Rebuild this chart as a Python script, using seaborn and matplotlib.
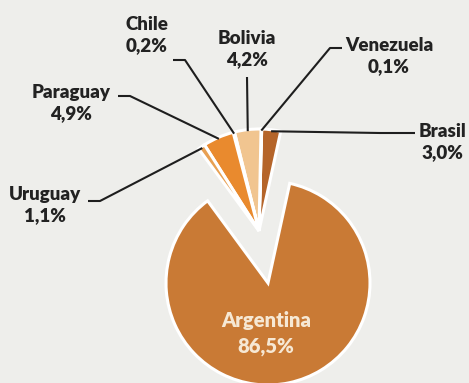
import matplotlib
matplotlib.use("Agg")
import matplotlib.pyplot as plt
import seaborn as sns
import numpy as np

# Share of each country (percent), listed counter-clockwise from Argentina
countries = ["Argentina", "Brasil", "Venezuela", "Bolivia", "Chile", "Paraguay", "Uruguay"]
shares = [86.5, 3.0, 0.1, 4.2, 0.2, 4.9, 1.1]
share_labels = ["86,5%", "3,0%", "0,1%", "4,2%", "0,2%", "4,9%", "1,1%"]
colors = ["#C97A35", "#B5652A", "#F4E6D2", "#F1C590", "#F6E2C2", "#E98A2E", "#E8A052"]

sns.set_theme(style="white")
plt.rcParams["font.family"] = ["Lato", "DejaVu Sans"]

W, H = 469, 383
fig = plt.figure(figsize=(W / 100, H / 100), dpi=100)
bg = "#EEEEEB"
fig.patch.set_facecolor(bg)
ax = fig.add_axes([0, 0, 1, 1])
ax.set_facecolor(bg)

# pixel frame helpers: pie radius = 102 px, main centre at (268, 283)
R_PX = 102.0
CX, CY = 268.0, 283.0


def px(x, y):
    return ((x - CX) / R_PX, (CY - y) / R_PX)


small_total = sum(shares[1:]) / sum(shares) * 360.0
gap_mid = 102.0
start = gap_mid + small_total / 2.0

wedges, _ = ax.pie(
    shares,
    colors=colors,
    startangle=start,
    counterclock=True,
    radius=1.0,
    wedgeprops=dict(edgecolor="white", linewidth=2.2),
)

ax.set_xlim(-CX / R_PX, (W - CX) / R_PX)
ax.set_ylim((CY - H) / R_PX, CY / R_PX)
ax.set_aspect("equal")
ax.axis("off")

# the small countries are pulled out together as one group
group_center = px(259, 231)
for w in wedges[1:]:
    w.set_center(group_center)

ax.text(*px(266, 321), "Argentina", ha="center", va="center",
        fontsize=14.5, fontweight="heavy", color="#F6E8D4")
ax.text(*px(266, 346), share_labels[0], ha="center", va="center",
        fontsize=14.5, fontweight="heavy", color="#F6E8D4")

# label placement and leader elbows (pixel frame)
label_pos = {
    "Brasil": (442, 142),
    "Venezuela": (389, 56),
    "Bolivia": (247, 49),
    "Chile": (147, 35),
    "Paraguay": (71, 103),
    "Uruguay": (45, 205),
}
elbows = {
    "Brasil": [(415, 133), (380, 133)],
    "Venezuela": [(342, 48), (330, 48)],
    "Bolivia": [(247, 77)],
    "Chile": [(173, 60), (185, 60)],
    "Paraguay": [(118, 96), (130, 96)],
    "Uruguay": [(88, 201), (100, 201)],
}

for i, name in enumerate(countries[1:], start=1):
    w = wedges[i]
    mid = np.deg2rad((w.theta1 + w.theta2) / 2.0)
    cx, cy = w.center
    tip = (cx + 0.985 * w.r * np.cos(mid), cy + 0.985 * w.r * np.sin(mid))
    pts = [px(*p) for p in elbows[name]] + [tip]
    xs, ys = zip(*pts)
    ax.plot(xs, ys, color="#1E1E1E", lw=1.5, solid_capstyle="butt", zorder=5)
    lx, ly = label_pos[name]
    ax.text(*px(lx, ly), f"{name}\n{share_labels[i]}", ha="center", va="center",
            fontsize=13.5, fontweight="heavy", color="#222222", linespacing=1.25)

fig.savefig("out.png", dpi=100, facecolor=bg)
